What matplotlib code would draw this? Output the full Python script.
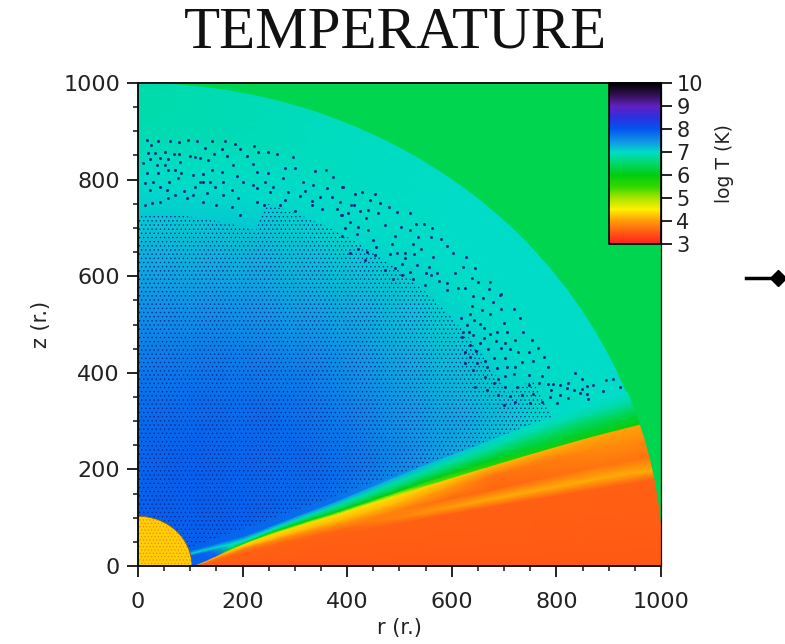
import numpy as np
import matplotlib
matplotlib.use('Agg')
import matplotlib.pyplot as plt
from matplotlib.colors import LinearSegmentedColormap, Normalize
from matplotlib.patches import Wedge
from matplotlib.lines import Line2D

W, H = 785, 644

# colour scale
scale_logT = [3, 3.5, 4, 4.5, 5, 5.5, 6, 6.5, 7, 7.4, 8, 8.5, 9, 9.5, 10]
scale_cols = ['#ff2020', '#ff5a14', '#ff9c08', '#fff000', '#a8e400', '#30d800', '#00cc10', '#00d868',
              '#00dcc8', '#109ce4', '#0454f0', '#2c30e0', '#6020c0', '#301050', '#000000']

# wind: log T on a polar grid
wind_r = [60, 200, 300, 400, 500, 600, 700, 800, 850, 900, 950, 1000, 1100]
wind_angle = [0, 20, 25, 35, 50, 70, 90]
wind_0 = [7.9, 7.85, 7.8, 7.75, 7.6, 7.4, 7.25, 7.05, 7.0, 7.0, 7.0, 7.0, 7.0]
wind_20 = [7.9, 7.85, 7.8, 7.75, 7.6, 7.4, 7.25, 7.05, 7.0, 7.0, 7.0, 7.0, 7.0]
wind_25 = [7.9, 7.9, 7.85, 7.8, 7.65, 7.45, 7.3, 7.1, 7.02, 7.0, 7.0, 7.0, 7.0]
wind_35 = [7.9, 7.9, 7.85, 7.8, 7.65, 7.45, 7.25, 7.05, 7.0, 7.0, 7.0, 7.0, 7.0]
wind_50 = [7.9, 7.9, 7.85, 7.8, 7.65, 7.45, 7.25, 7.05, 7.0, 7.0, 7.0, 7.0, 7.0]
wind_70 = [7.9, 7.9, 7.85, 7.75, 7.6, 7.4, 7.2, 7.02, 7.0, 6.95, 6.95, 6.95, 6.95]
wind_90 = [7.9, 7.85, 7.8, 7.7, 7.55, 7.35, 7.15, 7.0, 6.95, 6.88, 6.85, 6.85, 6.85]
wind_table = [wind_0, wind_20, wind_25, wind_35, wind_50, wind_70, wind_90]

# torus: layer edges (degrees) and log T at each radius
torus_r = [105, 130, 150, 180, 210, 260, 320, 400, 500, 600, 700, 800, 900, 960, 1010]
edge_0 = [0] * 15
edge_1 = [0, 2.5, 4, 5.5, 7, 8, 9, 9.5, 10, 10.2, 10.3, 10.3, 10.3, 10.3, 10.3]
edge_2 = [0, 3, 5, 7, 8.5, 9.5, 10.5, 11, 11.3, 11.5, 11.6, 11.6, 11.6, 11.5, 11.3]
edge_3 = [0, 3.5, 6, 8.5, 10.5, 11.5, 12.5, 12.8, 13, 13.2, 13.2, 13.2, 13.2, 13.1, 13]
edge_4 = [0, 4, 7, 9.5, 11.5, 12.5, 13.5, 14, 14.8, 15.2, 15.4, 15.5, 15.5, 15.5, 15.5]
edge_5 = [0, 5, 8, 11, 13, 14.5, 15.3, 15.7, 16.4, 16.9, 17.1, 17.2, 17.2, 17.1, 17]
edge_6 = [8, 9, 10, 11.5, 13.3, 15.2, 16, 16.5, 17.2, 17.8, 18, 18.1, 18.1, 18, 18]
edge_7 = [12, 12.5, 13, 13.5, 14, 15.8, 16.8, 17.3, 18.2, 18.8, 19, 19.2, 19.2, 19, 19]
edge_8 = [14.5, 14.5, 14.5, 14.5, 15, 16.6, 17.6, 18.3, 19.2, 19.8, 20, 20.2, 20.2, 20, 20]
edge_9 = [17, 17, 17, 17, 16.5, 17.5, 18.5, 19.2, 20.2, 20.8, 21, 21.2, 21.2, 21, 21]
body_edges = [edge_0, edge_1, edge_2, edge_3, edge_4, edge_5]
skin_edges = [edge_5, edge_6, edge_7, edge_8, edge_9]
body_0 = [3.5] * 15
body_1 = [3.55] * 15
body_2 = [3.6, 3.6, 3.6, 3.6, 3.6, 3.6, 3.6, 3.6, 3.8, 4.0, 4.1, 4.1, 4.1, 4.1, 4.1]
body_3 = [3.7, 3.7, 3.75, 3.8, 3.85, 3.9, 3.95, 3.95, 3.8, 3.65, 3.6, 3.65, 3.7, 3.7, 3.7]
body_4 = [4.0, 4.0, 4.0, 4.1, 4.2, 4.2, 4.2, 4.2, 4.2, 4.0, 3.7, 3.75, 3.85, 3.9, 3.9]
body_5 = [4.2, 4.2, 4.2, 4.3, 4.4, 4.4, 4.4, 4.4, 4.4, 4.35, 4.2, 4.15, 4.1, 4.05, 4.05]
body_logT = [body_0, body_1, body_2, body_3, body_4, body_5]
skin_0 = [7.9, 7.9, 7.9, 5.2, 5.0, 4.9, 4.8, 4.6, 4.6, 5.3, 5.6, 5.8, 5.9, 5.9, 5.9]
skin_1 = [7.9, 7.9, 7.8, 6.3, 6.1, 6.0, 6.0, 6.0, 6.0, 6.05, 6.1, 6.2, 6.2, 6.2, 6.2]
skin_2 = [7.9, 7.9, 7.6, 7.0, 6.7, 6.6, 6.5, 6.5, 6.5, 6.5, 6.5, 6.5, 6.5, 6.5, 6.5]
skin_3 = [7.0, 7.0, 7.0, 7.0, 7.0, 7.0, 6.9, 6.85, 6.85, 6.85, 6.85, 6.85, 6.85, 6.85, 6.85]
skin_4 = [7.85, 7.85, 7.85, 7.85, 7.7, 7.6, 7.5, 7.4, 7.3, 7.2, 7.1, 7.0, 7.0, 7.0, 7.0]
skin_logT = [skin_0, skin_1, skin_2, skin_3, skin_4]

outer_logT = 6.35
star_r = 103
star_logT = 4.3

# individual dark specks in the outer, sparse part of the wind
dots_top = [(18,882),(39,879),(61,880),(79,877),(96,882),(113,880),(141,880),(166,880),(185,874),(25,872),
    (128,865),(160,863),(222,870),(195,863),(230,858),(249,858),(265,854),(297,847),(208,849),(20,856),
    (32,856),(52,858),(68,854),(79,854),(99,848),(109,846),(118,844),(145,854),(171,849),(134,841),
    (80,836),(58,842),(42,844),(22,842),(10,834),(36,830),(52,830),(182,830),(220,832),(300,825),
    (281,823),(249,814),(227,816),(338,818),(359,820),(190,808),(160,816),(141,820),(71,820),(58,820),
    (39,813),(17,814),(125,811),(83,813),(106,810),(77,803),(118,796),(125,796),(138,796),(60,796),
    (29,796),(13,792),(163,796),(201,794),(220,789),(243,796),(278,803),(316,796),(335,789),(373,806),
    (392,785),(361,782),(319,776),(287,775),(259,785),(252,775),(227,782),(179,778),(147,785),(109,785),
    (87,776),(55,778),(42,785),(23,778),(310,767),(370,765),(332,756),(348,765),(281,758),(192,761),
    (163,768),(131,772),(106,768),(71,768),(58,761),(125,754),(150,747),(227,754),(271,747),(332,747),
    (351,740),(380,740),(408,747),(389,727),(300,734),(195,727),(240,747),(179,744),(93,761),(42,754),
    (26,751),(13,747)]
dots_mid = [(391,785),(415,771),(429,775),(453,770),(387,754),(413,747),(443,757),(462,752),(480,744),(424,735),
    (440,737),(459,730),(391,726),(402,730),(496,732),(520,731),(436,720),(406,713),(396,699),(420,702),
    (472,706),(531,709),(547,709),(503,702),(521,695),(440,695),(563,699),(491,684),(536,682),(580,676),
    (561,682),(450,675),(391,684),(418,688),(591,663),(485,666),(525,666),(541,656),(603,649),(564,640),
    (496,648),(482,646),(510,647),(527,646),(628,640),(453,644),(437,651),(622,619),(644,616),(606,606),
    (557,619),(533,623),(504,626),(472,613),(491,618),(510,637),(638,597),(650,588),(673,588),(671,573),
    (692,562),(660,554),(625,575),(590,571),(612,575),(571,606),(550,606),(520,609),(561,602),(576,590),
    (548,582),(526,595),(504,602),(488,595),(590,585),(405,647),(421,657),(434,633),(456,661)]
dots_low = [(694,563),(641,560),(678,546),(638,539),(657,531),(694,533),(718,533),(673,521),(635,522),(618,513),
    (643,509),(700,504),(629,500),(654,502),(731,513),(662,492),(622,485),(632,485),(736,484),(706,485),
    (687,485),(673,480),(641,478),(662,473),(619,475),(753,468),(721,468),(685,466),(654,461),(635,457),
    (702,461),(764,452),(747,444),(712,449),(694,452),(626,444),(670,449),(646,445),(726,444),(635,432),
    (777,433),(702,430),(680,430),(664,424),(755,424),(734,422),(783,413),(721,413),(705,411),(667,411),
    (686,409),(648,420),(626,420),(836,399),(772,394),(747,395),(718,397),(702,393),(849,388),(689,388),
    (664,392),(641,406),(894,385),(908,388),(823,378),(807,375),(794,376),(783,377),(858,373),(870,375),
    (922,371),(890,363),(849,366),(833,364),(820,368),(789,364),(766,378),(747,375),(724,371),(702,371),
    (680,378),(858,357),(845,359),(807,354),(787,350),(756,357),(734,354),(712,352),(689,354),(667,364),
    (645,371),(861,346),(823,347),(772,340),(801,337),(750,337),(721,340),(699,333)]

r_ticks = [0, 200, 400, 600, 800, 1000]
z_ticks = [0, 200, 400, 600, 800, 1000]
cbar_ticks = [3, 4, 5, 6, 7, 8, 9, 10]

plt.rcParams['font.family'] = ['DejaVu Sans']
plt.rcParams['hatch.linewidth'] = 0.5

cmap = LinearSegmentedColormap.from_list(
    'temp', [((v - 3) / 7, c) for v, c in zip(scale_logT, scale_cols)], N=512)
norm = Normalize(3, 10)

fig = plt.figure(figsize=(W / 100, H / 100), dpi=100)
fig.patch.set_facecolor('white')


def px_axes(x0, y0, x1, y1):
    return fig.add_axes([x0 / W, 1 - y1 / H, (x1 - x0) / W, (y1 - y0) / H])


def polar_mesh(ax, radii, angles, values, z):
    # radii 1d or 2d, angles in degrees
    a = np.radians(np.array(angles, dtype=float))
    return ax.pcolormesh(radii * np.cos(a), radii * np.sin(a), np.array(values), cmap=cmap, norm=norm,
                         shading='gouraud', zorder=z)


ax = px_axes(138, 83, 661, 566)
ax.set_facecolor(cmap(norm(outer_logT)))

# wind, cut off at the outer radius
rr, aa = np.meshgrid(wind_r, wind_angle)
wind = polar_mesh(ax, rr, aa, wind_table, 1)
wind.set_clip_path(Wedge((0, 0), 1000, 0, 90, transform=ax.transData))

# dense speckle inside, single specks outside
speckle = [(105, 730, 21, 90), (730, 790, 21, 72), (790, 850, 21, 27)]
for r0, r1, a0, a1 in speckle:
    ax.add_patch(Wedge((0, 0), r1, a0, a1, width=r1 - r0, fill=False, hatch='....',
                       edgecolor='#0c2a90', lw=0, zorder=2))
dots = np.array(dots_top + dots_mid + dots_low)
ax.scatter(dots[:, 0], dots[:, 1], s=4.5, color='#0c2478', lw=0, zorder=2)

# torus and its skin
tr = np.array(torus_r, dtype=float)[None, :]
body = polar_mesh(ax, tr, body_edges, body_logT, 3)
skin = polar_mesh(ax, tr, skin_edges, skin_logT, 3)
for m in (body, skin):
    m.set_clip_path(Wedge((0, 0), 1003, 0, 90, transform=ax.transData))

# star
ax.add_patch(Wedge((0, 0), star_r, 0, 90, facecolor=cmap(norm(star_logT)), edgecolor='#8a5010', lw=0.5, zorder=4))
ax.add_patch(Wedge((0, 0), star_r, 0, 90, fill=False, hatch='.....', edgecolor='#f08a10', lw=0, zorder=5))

ax.set_xlim(0, 1000)
ax.set_ylim(0, 1000)
ax.set_xticks(r_ticks)
ax.set_yticks(z_ticks)
ax.set_xticks(np.arange(0, 1001, 50), minor=True)
ax.set_yticks(np.arange(0, 1001, 50), minor=True)
ax.tick_params(which='major', length=8, width=1.3, labelsize=16, color='#111111', labelcolor='#222222')
ax.tick_params(axis='x', which='major', pad=11)
ax.tick_params(axis='y', which='major', pad=5)
ax.tick_params(which='minor', length=3.5, width=1.1, color='#111111')
for s in ax.spines.values():
    s.set_linewidth(1.4)
    s.set_color('#111111')
    s.set_zorder(10)
ax.spines['right'].set_linewidth(0.9)
ax.set_xlabel('r (r.)', fontsize=15, labelpad=4, color='#222222')
ax.set_ylabel('z (r.)', fontsize=15, labelpad=9, color='#222222')

# colour bar inside the upper right corner
cax = px_axes(609, 83, 661, 244)
sm = plt.cm.ScalarMappable(norm=norm, cmap=cmap)
cb = fig.colorbar(sm, cax=cax, orientation='vertical')
cb.set_ticks(cbar_ticks)
cb.ax.tick_params(length=8, width=1.3, labelsize=15, pad=3, color='#111111', labelcolor='#222222')
cb.outline.set_linewidth(1.2)
cb.set_label('log T (K)', fontsize=13.5, labelpad=9, color='#222222')

fig.text(395 / W, 1 - 33 / H, 'TEMPERATURE', family='Liberation Serif', fontsize=42.5,
         ha='center', va='center', color='#111111')

# bullet on the right
y = 1 - 278 / H
fig.add_artist(Line2D([746 / W, 778 / W], [y, y], color='black', lw=2.5))
fig.add_artist(Line2D([778 / W], [y], marker='D', color='black', ms=8, ls=''))

fig.savefig('out.png', dpi=100)
